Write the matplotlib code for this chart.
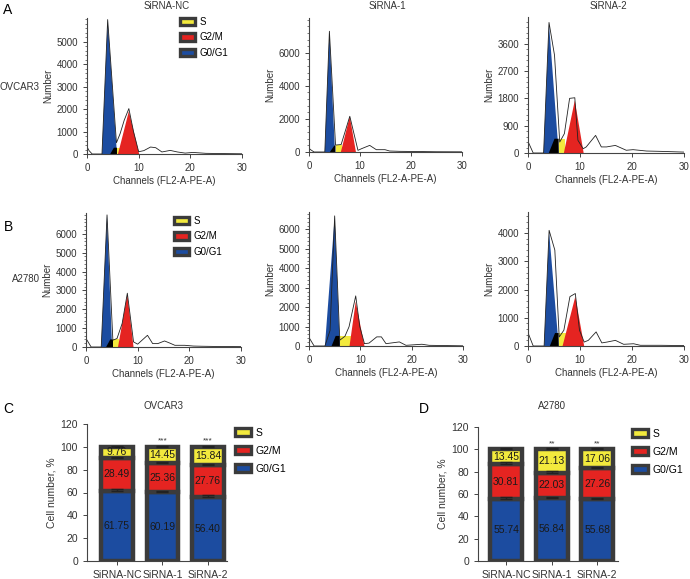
import matplotlib
matplotlib.use('Agg')
import matplotlib.pyplot as plt
import matplotlib.patches as mpatches
from matplotlib.ticker import AutoMinorLocator

plt.rcParams['font.family'] = ['Liberation Sans', 'DejaVu Sans']

BLUE = '#1c4ca0'
RED = '#e52421'
YELLOW = '#f3ea3d'
EDGE = '#3b3b3b'
TXT = '#333333'

# histogram outlines (channel, count)
a1_x = [0, 0.4, 1, 2.9, 4.0, 5.7, 6.4, 7.2, 8.1, 9.0, 10.0, 11.0, 12.3, 13.3, 14.5, 16.1, 17.5, 19, 20.5, 23, 26, 30]
a1_y = [320, 150, 0, 0, 5980, 500, 900, 1500, 2020, 1000, 100, 150, 310, 280, 90, 160, 90, 40, 70, 30, 20, 10]
a2_x = [0, 0.4, 1, 3.1, 4.0, 5.2, 6.3, 7.0, 8.0, 9.6, 10.3, 11.9, 13.2, 14.9, 15.8, 17.8, 21, 25, 30]
a2_y = [220, 120, 0, 0, 7300, 420, 450, 1150, 2160, 100, 200, 400, 140, 140, 60, 40, 30, 15, 10]
a3_x = [0, 1, 3.0, 4.04, 5.1, 6.1, 7.0, 8.0, 9.0, 9.6, 10.6, 11.2, 13.0, 14.1, 15.1, 16.8, 18.9, 20.2, 22.8, 25.3, 30]
a3_y = [380, 0, 0, 4300, 3220, 360, 640, 1800, 1820, 420, 140, 200, 580, 200, 200, 250, 90, 110, 65, 55, 30]
b1_x = [0, 1, 2.95, 4.07, 5.2, 6.0, 7.0, 8.0, 9.2, 10.0, 11.9, 12.9, 13.9, 15.2, 16.2, 17.2, 19.1, 20.8, 22.4, 26, 30]
b1_y = [450, 0, 0, 7000, 360, 450, 1250, 2850, 270, 150, 620, 180, 180, 320, 210, 90, 90, 50, 40, 25, 20]
b2_x = [0, 1, 3.1, 4.1, 5.0, 6.0, 7.0, 7.8, 9.1, 9.9, 10.8, 11.7, 13.2, 14.1, 15.0, 17.6, 18.9, 22, 23.4, 30]
b2_y = [440, 0, 0, 800, 6700, 300, 500, 990, 2580, 990, 120, 150, 470, 470, 120, 210, 35, 90, 35, 10]
b3_x = [0, 1, 3.1, 4.06, 5.16, 6.0, 6.9, 8.06, 9.1, 9.9, 10.8, 11.6, 13.1, 14.2, 15.2, 16.8, 18.4, 20.3, 21.6, 25.5, 30]
b3_y = [470, 0, 0, 4100, 3400, 320, 560, 1750, 1860, 560, 140, 200, 500, 110, 140, 200, 60, 80, 25, 25, 15]

# fitted peaks: (start, top, end, height)
g1_peaks = [(2.9, 4.0, 5.8, 5950), (3.1, 4.0, 5.1, 7250), (3.0, 4.04, 5.9, 4250),
            (2.95, 4.07, 5.05, 6950), (3.1, 5.0, 6.0, 6650), (3.1, 4.06, 5.9, 4050)]
g2_peaks = [(6.0, 8.1, 10.1, 1900), (6.25, 8.0, 9.2, 2150), (6.9, 9.0, 10.7, 1730),
            (6.2, 8.0, 9.2, 2800), (7.9, 9.1, 10.8, 2280), (6.65, 9.1, 10.8, 1750)]
# S phase: (start, plateau start, end of overlap, end, height)
s_phase = [(4.5, 5.2, 5.8, 6.3, 280), (4.1, 5.0, 5.2, 6.5, 400), (4.0, 5.1, 5.9, 7.2, 470),
           (3.9, 4.7, 5.3, 6.4, 400), (4.4, 5.2, 6.0, 8.1, 520), (4.2, 5.2, 5.9, 7.3, 460)]
y_max = [6050, 8100, 4480, 7100, 6900, 4750]
y_step = [1000, 2000, 900, 1000, 1000, 1000]
y_top_tick = [5000, 6000, 3600, 6000, 6000, 4000]
hist_titles = ['SiRNA-NC', 'SiRNA-1', 'SiRNA-2']

# stacked bars
groups = ['SiRNA-NC', 'SiRNA-1', 'SiRNA-2']
c_g0 = [61.75, 60.19, 56.40]
c_g2 = [28.49, 25.36, 27.76]
c_s = [9.76, 14.45, 15.84]
c_err = [[1.0, 0.8, 1.0], [0.8, 1.2, 0.8], [0.8, 0.8, 0.8]]
c_sig = ['', '***', '***']
d_g0 = [55.74, 56.84, 55.68]
d_g2 = [30.81, 22.03, 27.26]
d_s = [13.45, 21.13, 17.06]
d_err = [[1.5, 0.8, 1.0], [1.8, 2.0, 1.5], [1.0, 1.5, 1.5]]
d_sig = ['', '**', '**']

fig = plt.figure(figsize=(6.9, 5.79), dpi=100)


def px_axes(l, r, b, t):
    return fig.add_axes([l / 690, 1 - b / 579, (r - l) / 690, (b - t) / 579])


def ftext(x, y, s, **kw):
    fig.text(x / 690, 1 - y / 579, s, **kw)


def legend_handles():
    return [mpatches.Patch(facecolor=c, edgecolor=EDGE, linewidth=2.4, joinstyle='round')
            for c in (YELLOW, RED, BLUE)]


def style(ax):
    for sp in ('top', 'right'):
        ax.spines[sp].set_visible(False)
    for sp in ('left', 'bottom'):
        ax.spines[sp].set_color('#444444')
        ax.spines[sp].set_linewidth(0.8)
    ax.tick_params(colors='#444444', labelcolor=TXT, labelsize=7, width=0.7, length=3)


hist_boxes = [(87, 242, 154, 18), (309, 462, 152, 18), (528, 684, 153, 17),
              (86, 241, 347, 213), (309, 463, 346, 212), (528, 684, 346, 212)]
lines = [(a1_x, a1_y), (a2_x, a2_y), (a3_x, a3_y), (b1_x, b1_y), (b2_x, b2_y), (b3_x, b3_y)]
hist_legend_at = {0: (180, 17), 3: (174, 216)}

for i, box in enumerate(hist_boxes):
    ax = px_axes(*box)
    style(ax)
    x0, xp, x1, h = g1_peaks[i]
    ax.fill([x0, xp, x1], [0, h, 0], color=BLUE, lw=0)
    s0, s1, sb, s2, hs = s_phase[i]
    ax.fill([s0, s1, sb, sb], [0, hs, hs, 0], color='black', lw=0)
    ax.fill([sb, sb, s2, s2], [0, hs, hs, 0], color=YELLOW, lw=0)
    x0, xp, x1, h = g2_peaks[i]
    ax.fill([x0, xp, x1], [0, h, 0], color=RED, lw=0)
    ax.plot(lines[i][0], lines[i][1], color='#222222', lw=0.6)
    ax.set_xlim(0, 30)
    ax.set_ylim(0, y_max[i])
    ax.set_xticks([0, 10, 20, 30])
    ax.set_yticks(range(0, y_top_tick[i] + 1, y_step[i]))
    ax.yaxis.set_minor_locator(AutoMinorLocator(5))
    ax.tick_params(axis='y', which='minor', length=1.5, width=0.5, colors='#444444')
    ax.set_xlabel('Channels (FL2-A-PE-A)', fontsize=7, color=TXT, labelpad=2)
    ax.set_ylabel('Number', fontsize=7, color=TXT, labelpad=2)
    if i < 3:
        ftext((box[0] + box[1]) / 2 + 2, 6, hist_titles[i], fontsize=7, color=TXT,
              ha='center', va='center')
    if i in hist_legend_at:
        lx, ly = hist_legend_at[i]
        fig.legend(legend_handles(), ['S', 'G2/M', 'G0/G1'], loc='upper left',
                   bbox_to_anchor=(lx / 690, 1 - ly / 579),
                   frameon=False, fontsize=7, handlelength=1.5, handleheight=0.8,
                   labelspacing=0.55, handletextpad=0.5, borderaxespad=0, borderpad=0)


def stacked(box, title, g0, g2, s, err, sig, xl, xr, leg_xy, title_x):
    ax = px_axes(*box)
    style(ax)
    xs = list(range(len(groups)))
    bottoms = [0] * 3
    for vals, col, e in zip((g0, g2, s), (BLUE, RED, YELLOW), err):
        ax.bar(xs, vals, 0.7, bottom=bottoms, color=col, edgecolor=EDGE, linewidth=3.2, zorder=2)
        tops = [b + v for b, v in zip(bottoms, vals)]
        ax.errorbar(xs, tops, yerr=[[0] * 3, e], fmt='none', ecolor='#222222',
                    elinewidth=1.0, capsize=4, capthick=1.0, zorder=3)
        for x, b, v in zip(xs, bottoms, vals):
            ax.text(x, b + v / 2, f'{v:.2f}', ha='center', va='center', fontsize=7.5,
                    color='#1a1a1a', zorder=4)
        bottoms = tops
    for x, t in zip(xs, sig):
        if t:
            ax.text(x, 105, t, ha='center', va='center', fontsize=6, color=TXT)
    ax.set_xlim(xl, xr)
    ax.set_ylim(0, 120)
    ax.set_yticks(range(0, 121, 20))
    ax.set_xticks(xs)
    ax.set_xticklabels(groups, fontsize=7.5)
    ax.tick_params(axis='y', labelsize=7.5)
    ax.set_ylabel('Cell number, %', fontsize=7.5, color=TXT, labelpad=3)
    ftext(title_x, 406, title, fontsize=7, color=TXT, ha='center', va='center')
    fig.legend(legend_handles(), ['S', 'G2/M', 'G0/G1'], loc='upper left',
               bbox_to_anchor=(leg_xy[0] / 690, 1 - leg_xy[1] / 579),
               frameon=False, fontsize=7.5, handlelength=1.5, handleheight=0.8,
               labelspacing=0.75, handletextpad=0.5, borderaxespad=0, borderpad=0)


stacked((87, 227, 561, 424), 'OVCAR3', c_g0, c_g2, c_s, c_err, c_sig, -0.66, 2.42, (235, 428), 163)
stacked((478, 618, 561, 427), 'A2780', d_g0, d_g2, d_s, d_err, d_sig, -0.62, 2.46, (632, 429), 552)

# panel letters and row labels
ftext(3, 10, 'A', fontsize=10, va='center')
ftext(4, 227, 'B', fontsize=10, va='center')
ftext(3, 409, 'C', fontsize=10, va='center')
ftext(419, 409, 'D', fontsize=10, va='center')
ftext(0, 87, 'OVCAR3', fontsize=7, va='center', color=TXT)
ftext(12, 279, 'A2780', fontsize=7, va='center', color=TXT)

fig.savefig('out.png', dpi=100)
